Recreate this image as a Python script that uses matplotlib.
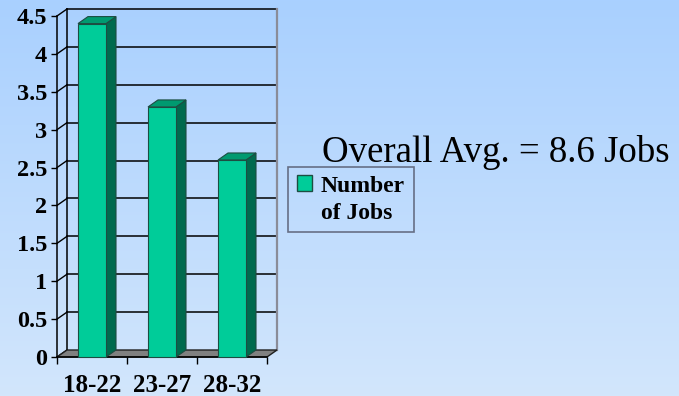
import numpy as np
import matplotlib
matplotlib.use("Agg")
import matplotlib.pyplot as plt
from matplotlib.patches import Rectangle, Polygon, Patch
from matplotlib.legend_handler import HandlerPatch

# Data
categories = ["18-22", "23-27", "28-32"]
jobs = [4.4, 3.3, 2.6]
y_ticks = [0, 0.5, 1, 1.5, 2, 2.5, 3, 3.5, 4, 4.5]
y_tick_labels = ["0", "0.5", "1", "1.5", "2", "2.5", "3", "3.5", "4", "4.5"]
note = "Overall Avg. = 8.6 Jobs"
series_name = "Number\nof Jobs"

W, H, DPI = 679, 396, 100
fig = plt.figure(figsize=(W / DPI, H / DPI), dpi=DPI)

# gradient background
bg = fig.add_axes([0, 0, 1, 1], zorder=-10)
top = np.array([0.663, 0.816, 1.0])
bot = np.array([0.824, 0.902, 0.988])
t = np.linspace(0, 1, 256)[:, None]
grad = top[None, :] * (1 - t) + bot[None, :] * t
bg.imshow(grad[:, None, :], aspect="auto", extent=[0, 1, 0, 1])
bg.set_axis_off()

serif = "Liberation Serif"

# front plane of the 3D box
ax = fig.add_axes([57 / W, 39 / H, 210 / W, 341 / H])
ax.patch.set_visible(False)
ax.set_xlim(0, len(categories))
ax.set_ylim(0, 4.5)

# depth offset of back plane in data units (10 px right, 7 px up)
ddx = 10 / 70
ddy = 7 * 4.5 / 341

n = len(categories)
kw = dict(clip_on=False)

# floor
ax.add_patch(Polygon([(0, 0), (n, 0), (n + ddx, ddy), (ddx, ddy)],
                     closed=True, facecolor="#808080", edgecolor="#202020",
                     lw=1.0, zorder=1, **kw))

# back wall gridlines and left wall diagonals
for v in y_ticks[1:]:
    ax.plot([ddx, n + ddx], [v + ddy, v + ddy], color="black", lw=1.1, zorder=0.5, **kw)
for v in y_ticks:
    ax.plot([0, ddx], [v, v + ddy], color="black", lw=1.0, zorder=0.5, **kw)
# back wall edges
ax.plot([ddx, ddx], [ddy, 4.5 + ddy], color="black", lw=1.1, zorder=0.5, **kw)
ax.plot([n + ddx, n + ddx], [ddy, 4.5 + ddy], color="#8a8c98", lw=1.6, zorder=0.5, **kw)

# bars
bw = 0.4
front_c, side_c, top_c, edge_c = "#00cc99", "#006a4e", "#009a70", "#1d4d42"
for i, v in enumerate(jobs):
    x0 = i + 0.3
    x1 = x0 + bw
    ax.add_patch(Polygon([(x1, 0), (x1 + ddx, ddy), (x1 + ddx, v + ddy), (x1, v)],
                         closed=True, facecolor=side_c, edgecolor=edge_c, lw=0.8,
                         zorder=3, **kw))
    ax.add_patch(Polygon([(x0, v), (x1, v), (x1 + ddx, v + ddy), (x0 + ddx, v + ddy)],
                         closed=True, facecolor=top_c, edgecolor=edge_c, lw=0.8,
                         zorder=3, **kw))
    ax.add_patch(Rectangle((x0, 0), bw, v, facecolor=front_c, edgecolor=edge_c,
                           lw=0.8, zorder=4, **kw))

# axes
for s in ["top", "right", "bottom"]:
    ax.spines[s].set_visible(False)
ax.spines["left"].set_color("black")
ax.spines["left"].set_linewidth(1.1)
ax.plot([0, n], [0, 0], color="black", lw=1.1, zorder=2, **kw)

ax.set_yticks(y_ticks)
ax.set_yticklabels(y_tick_labels, fontfamily=serif, fontweight="bold", fontsize=17.5)
ax.tick_params(axis="y", direction="out", length=4, width=1.0, pad=3)

ax.set_xticks(range(n + 1))
ax.set_xticklabels([])
ax.set_xticks([i + 0.5 for i in range(n)], minor=True)
ax.set_xticklabels(categories, minor=True, fontfamily=serif, fontweight="bold", fontsize=18)
ax.tick_params(axis="x", which="minor", length=0, pad=12)
ax.tick_params(axis="x", which="major", direction="out", length=5, width=1.0)

# annotation
fig.text(322 / W, 1 - 162 / H, note, fontfamily=serif, fontsize=26.6,
         ha="left", va="baseline", color="black")


# legend key sits beside the first line of the label
def top_aligned_key(legend, orig_handle, xdescent, ydescent, width, height, fontsize):
    return Rectangle((-xdescent, -ydescent + 0.68 * fontsize), width, height)


handle = Patch(facecolor=front_c, edgecolor=edge_c, lw=1.0)
leg = fig.legend([handle], [series_name], loc="upper left",
                 bbox_to_anchor=(288 / W, 1 - 167 / H), bbox_transform=fig.transFigure,
                 borderaxespad=0, prop=dict(family=serif, weight="bold", size=17),
                 frameon=True, fancybox=False, handlelength=0.66, handleheight=0.66,
                 handletextpad=0.38, borderpad=0.36,
                 handler_map={Patch: HandlerPatch(patch_func=top_aligned_key)})
leg.get_frame().set_edgecolor("#505468")
leg.get_frame().set_facecolor("none")
leg.get_frame().set_linewidth(1.2)
for tx in leg.get_texts():
    tx.set_linespacing(1.38)

fig.savefig("out.png", dpi=DPI)
